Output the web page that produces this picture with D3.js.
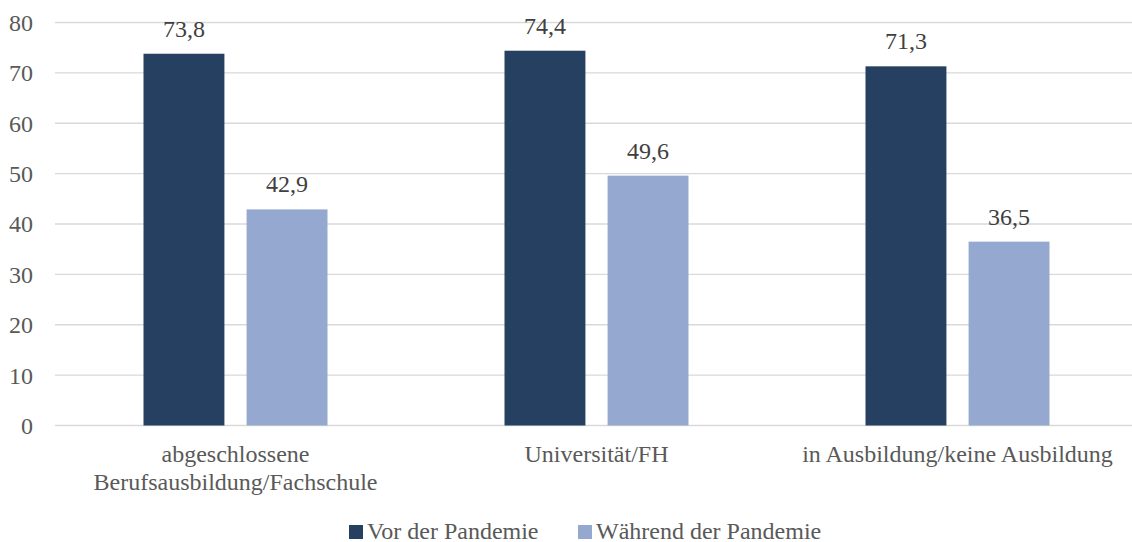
<!DOCTYPE html>
<html>
<head>
<meta charset="utf-8">
<script src="https://cdn.jsdelivr.net/npm/d3@7"></script>
<style>
  html, body { margin: 0; padding: 0; background: #fff; }
</style>
</head>
<body>
<svg id="chart" width="1132" height="542"></svg>
<script>
// Anteil je Bildungsgruppe, vor und während der Pandemie
const categories = [
  ["abgeschlossene", "Berufsausbildung/Fachschule"],
  ["Universität/FH"],
  ["in Ausbildung/keine Ausbildung"]
];
const seriesNames = ["Vor der Pandemie", "Während der Pandemie"];
const vorValues = [73.8, 74.4, 71.3];
const waehrendValues = [42.9, 49.6, 36.5];
const yTicks = [0, 10, 20, 30, 40, 50, 60, 70, 80];
const colors = ["#264061", "#95a9d0"];

const FONT = '"Liberation Serif", "Times New Roman", serif';
const FS = 24;
const fmt = v => d3.format(".1f")(v).replace(".", ",");

const svg = d3.select("#chart");
const plot = { left: 55, right: 1138, top: 22.5, bottom: 425.5 };

const x0 = d3.scaleBand()
  .domain(d3.range(categories.length))
  .range([plot.left, plot.right])
  .paddingInner(0).paddingOuter(0);

const groupWidth = 184;
const x1 = d3.scaleBand()
  .domain([0, 1])
  .range([0, groupWidth])
  .paddingInner(0.215);

const y = d3.scaleLinear().domain([0, 80]).range([plot.bottom, plot.top]);

// Gitterlinien
svg.append("g").selectAll("line")
  .data(yTicks)
  .join("line")
  .attr("x1", plot.left).attr("x2", 1132)
  .attr("y1", d => y(d)).attr("y2", d => y(d))
  .attr("stroke", "#d9d9d9")
  .attr("stroke-width", 1.4);

// Y-Achse
const yAxis = d3.axisLeft(y).tickValues(yTicks).tickSize(0).tickPadding(22);
const yg = svg.append("g").attr("transform", `translate(${plot.left},0)`).call(yAxis);
yg.select(".domain").remove();
yg.selectAll("text")
  .style("font-family", FONT)
  .style("font-size", FS + "px")
  .attr("fill", "#595959")
  .attr("dy", "0.33em");

// Balken
const rows = categories.map((c, i) => ({ i, values: [vorValues[i], waehrendValues[i]] }));

const groups = svg.append("g").selectAll("g")
  .data(rows)
  .join("g")
  .attr("transform", d => `translate(${x0(d.i) + x0.bandwidth() / 2 - groupWidth / 2},0)`);

groups.selectAll("rect")
  .data(d => d.values.map((v, s) => ({ v, s })))
  .join("rect")
  .attr("x", d => x1(d.s))
  .attr("width", x1.bandwidth())
  .attr("y", d => y(d.v))
  .attr("height", d => y(0) - y(d.v))
  .attr("fill", d => colors[d.s]);

// Wertebeschriftung
groups.selectAll("text.val")
  .data(d => d.values.map((v, s) => ({ v, s })))
  .join("text")
  .attr("class", "val")
  .attr("x", d => x1(d.s) + x1.bandwidth() / 2)
  .attr("y", d => y(d.v) - 17)
  .attr("text-anchor", "middle")
  .attr("fill", "#404040")
  .style("font-family", FONT)
  .style("font-size", FS + "px")
  .text(d => fmt(d.v));

// Kategorienbeschriftung
const catLabels = svg.append("g").selectAll("text")
  .data(categories)
  .join("text")
  .attr("x", (d, i) => x0(i) + x0.bandwidth() / 2)
  .attr("y", 462)
  .attr("text-anchor", "middle")
  .attr("fill", "#595959")
  .style("font-family", FONT)
  .style("font-size", FS + "px");
catLabels.selectAll("tspan")
  .data(d => d)
  .join("tspan")
  .attr("x", function () { return d3.select(this.parentNode).attr("x"); })
  .attr("dy", (d, j) => j === 0 ? 0 : 28)
  .text(d => d);

// Legende
const legendItems = [
  { name: seriesNames[0], color: colors[0], x: 349 },
  { name: seriesNames[1], color: colors[1], x: 578 }
];
const lg = svg.append("g").selectAll("g")
  .data(legendItems)
  .join("g")
  .attr("transform", d => `translate(${d.x},0)`);
lg.append("rect")
  .attr("x", 0).attr("y", 525)
  .attr("width", 14).attr("height", 14)
  .attr("fill", d => d.color);
lg.append("text")
  .attr("x", 18).attr("y", 538.5)
  .attr("fill", "#595959")
  .style("font-family", FONT)
  .style("font-size", FS + "px")
  .text(d => d.name);
</script>
</body>
</html>
